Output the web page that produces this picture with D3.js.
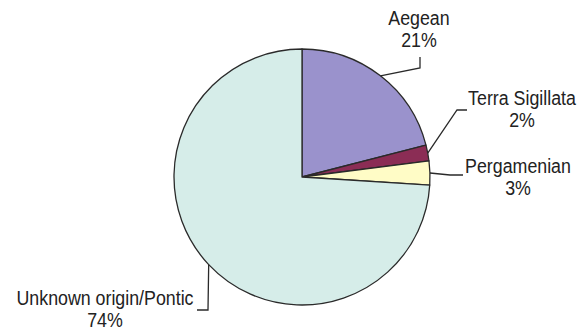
<!DOCTYPE html>
<html>
<head>
<meta charset="utf-8">
<script src="https://cdn.jsdelivr.net/npm/d3@7"></script>
<style>
  body { margin: 0; background: #fff; }
  text { font-family: "Liberation Sans", Arial, sans-serif; fill: #222; }
</style>
</head>
<body>
<div class="canvas"></div>
<script>
// data
const categories = ['Aegean', 'Terra Sigillata', 'Pergamenian', 'Unknown origin/Pontic'];
const shares = [21, 2, 3, 74];
const colours = ['#9a92cc', '#8b2d55', '#fffcc6', '#d6ede9'];

// dimensions
const dims = { width: 586, height: 333, radius: 128 };
const cent = { x: 302, y: 177 };

// label layout: elbow point, end of leader, text centre
const labelLayout = [
    { elbow: [420, 68], end: [420, 57], tx: 419, ty: 25 },
    { elbow: [457, 110], end: [467, 110], tx: 522, ty: 105 },
    { elbow: [450, 175], end: [463, 175], tx: 518, ty: 173 },
    { elbow: [208, 310], end: [197, 310], tx: 105, ty: 305 }
];

const svg = d3.select('.canvas')
    .append('svg')
    .attr('width', dims.width)
    .attr('height', dims.height);

const graph = svg.append('g')
    .attr('transform', `translate(${cent.x}, ${cent.y})`);

const pie = d3.pie()
    .sort(null)
    .value(d => d.share);

const arcPath = d3.arc()
    .outerRadius(dims.radius)
    .innerRadius(0);

// arc on the rim, used for leader starting points
const rimArc = d3.arc()
    .outerRadius(dims.radius)
    .innerRadius(dims.radius);

const colour = d3.scaleOrdinal()
    .domain(categories)
    .range(colours);

const data = categories.map((name, i) => ({ name, share: shares[i] }));
const arcs = pie(data);

graph.selectAll('path.arc')
    .data(arcs)
    .enter()
    .append('path')
    .attr('class', 'arc')
    .attr('d', arcPath)
    .attr('fill', d => colour(d.data.name))
    .attr('stroke', '#2a2a2a')
    .attr('stroke-width', 1.3)
    .attr('stroke-linejoin', 'round');

// leader lines
svg.selectAll('polyline.leader')
    .data(arcs)
    .enter()
    .append('polyline')
    .attr('class', 'leader')
    .attr('fill', 'none')
    .attr('stroke', '#2a2a2a')
    .attr('stroke-width', 1.3)
    .attr('points', (d, i) => {
        const c = rimArc.centroid(d);
        const l = labelLayout[i];
        return [[c[0] + cent.x, c[1] + cent.y], l.elbow, l.end].map(p => p.join(',')).join(' ');
    });

// labels
const labels = svg.selectAll('g.label')
    .data(arcs)
    .enter()
    .append('g')
    .attr('class', 'label')
    .attr('transform', (d, i) => `translate(${labelLayout[i].tx}, ${labelLayout[i].ty}) scale(0.89, 1)`);

labels.append('text')
    .attr('text-anchor', 'middle')
    .attr('font-size', 20)
    .text(d => d.data.name);

labels.append('text')
    .attr('text-anchor', 'middle')
    .attr('font-size', 20)
    .attr('y', 22)
    .text(d => d.data.share + '%');
</script>
</body>
</html>
